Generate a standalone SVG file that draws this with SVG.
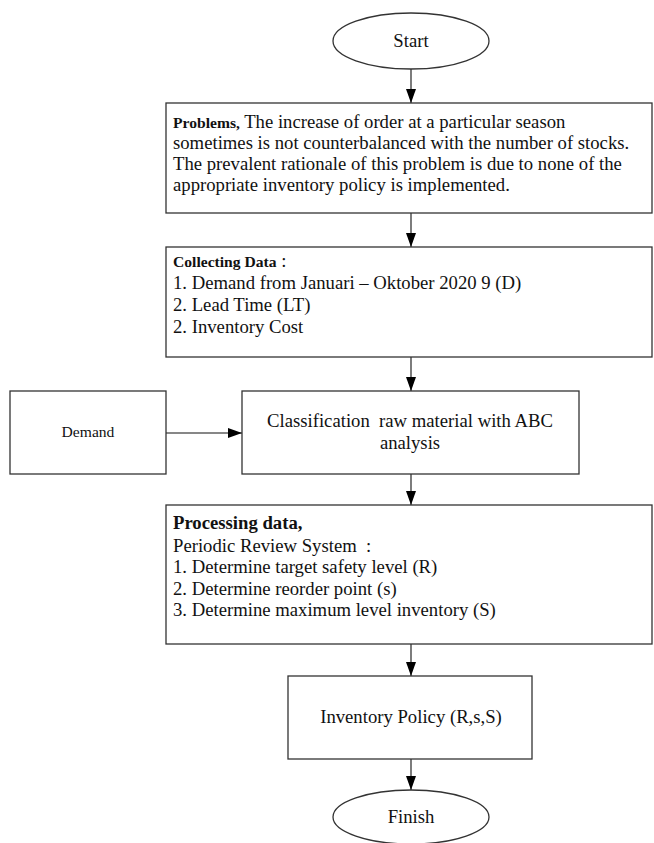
<svg xmlns="http://www.w3.org/2000/svg" width="654" height="843" viewBox="0 0 654 843">
<style>
.box{fill:#fff;stroke:#333;stroke-width:1.3}
.t{font-family:"Liberation Serif","Times New Roman",serif;font-size:18.7px;fill:#111}
.b{font-weight:bold}
.s{font-size:15.6px}
.c{text-anchor:middle}
.con line{stroke:#111;stroke-width:1.1}
</style>
<defs>
<marker id="ah" markerUnits="userSpaceOnUse" markerWidth="14" markerHeight="10" refX="14" refY="5" orient="auto">
<path d="M0,0 L14,5 L0,10 Z" fill="#000"/>
</marker>
</defs>
<rect width="654" height="843" fill="#fff"/>
<g class="con">
<line x1="411" y1="69" x2="411" y2="103" marker-end="url(#ah)"/>
<line x1="411" y1="213" x2="411" y2="247" marker-end="url(#ah)"/>
<line x1="411" y1="357" x2="411" y2="391" marker-end="url(#ah)"/>
<line x1="166" y1="433" x2="242" y2="433" marker-end="url(#ah)"/>
<line x1="411" y1="474" x2="411" y2="505" marker-end="url(#ah)"/>
<line x1="411" y1="644" x2="411" y2="676" marker-end="url(#ah)"/>
<line x1="411" y1="759" x2="411" y2="790" marker-end="url(#ah)"/>
</g>
<g id="start">
<ellipse class="box" cx="411" cy="41" rx="78" ry="28"/>
<text class="t c" x="411" y="47">Start</text>
</g>
<g id="problems">
<rect class="box" x="166" y="103" width="486" height="110"/>
<text class="t" x="173" y="128"><tspan class="b s">Problems,</tspan> The increase of order at a particular season</text>
<text class="t" x="173" y="149">sometimes is not counterbalanced with the number of stocks.</text>
<text class="t" x="173" y="170">The prevalent rationale of this problem is due to none of the</text>
<text class="t" x="173" y="191">appropriate inventory policy is implemented.</text>
</g>
<g id="collecting">
<rect class="box" x="166" y="247" width="486" height="110"/>
<text class="t" x="173" y="267"><tspan class="b s">Collecting Data</tspan> :</text>
<text class="t" x="173" y="289">1. Demand from Januari – Oktober 2020 9 (D)</text>
<text class="t" x="173" y="311">2. Lead Time (LT)</text>
<text class="t" x="173" y="333">2. Inventory Cost</text>
</g>
<g id="demand">
<rect class="box" x="10" y="391" width="156" height="83"/>
<text class="t s c" x="88" y="437">Demand</text>
</g>
<g id="classification">
<rect class="box" x="242" y="391" width="337" height="83"/>
<text class="t c" x="410" y="427" xml:space="preserve">Classification  raw material with ABC</text>
<text class="t c" x="410" y="449">analysis</text>
</g>
<g id="processing">
<rect class="box" x="166" y="505" width="486" height="139"/>
<text class="t b" x="173" y="529">Processing data,</text>
<text class="t" x="173" y="552" xml:space="preserve">Periodic Review System  :</text>
<text class="t" x="173" y="573">1. Determine target safety level (R)</text>
<text class="t" x="173" y="595">2. Determine reorder point (s)</text>
<text class="t" x="173" y="616">3. Determine maximum level inventory (S)</text>
</g>
<g id="policy">
<rect class="box" x="288" y="676" width="244" height="83"/>
<text class="t c" x="411" y="723">Inventory Policy (R,s,S)</text>
</g>
<g id="finish">
<ellipse class="box" cx="411" cy="817" rx="78" ry="27"/>
<text class="t c" x="411" y="823">Finish</text>
</g>
</svg>
